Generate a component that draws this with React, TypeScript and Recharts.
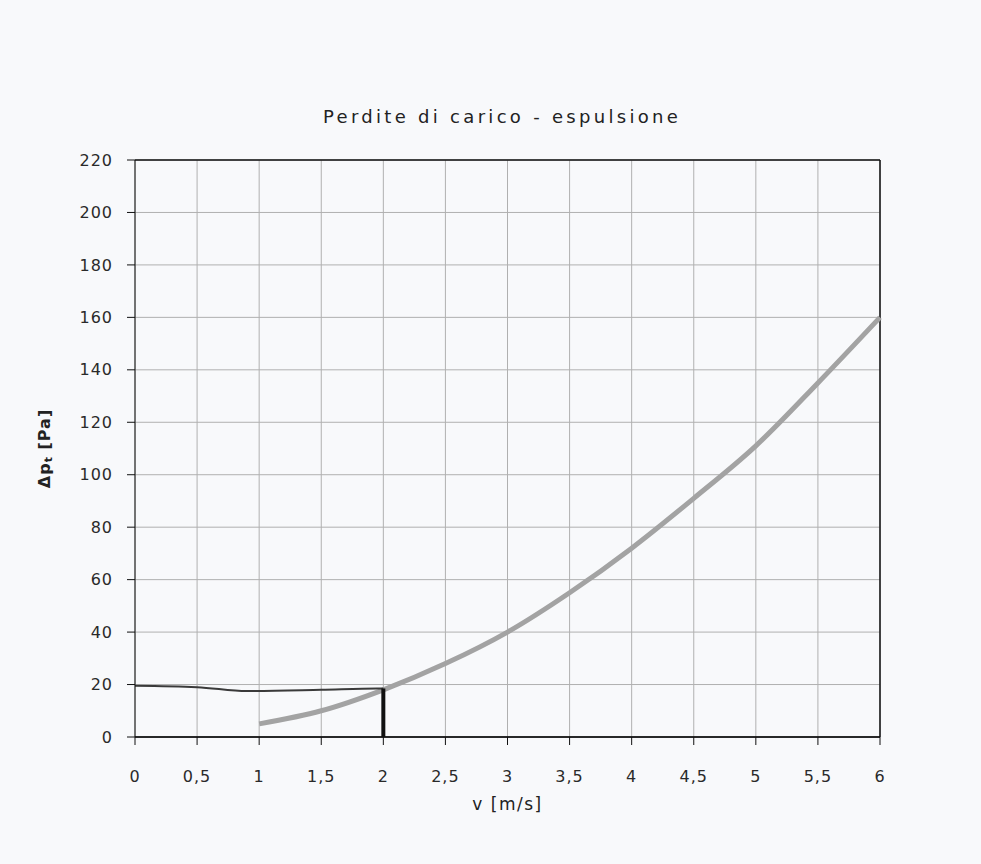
import {
  LineChart,
  Line,
  XAxis,
  YAxis,
  CartesianGrid,
  ReferenceLine,
} from "recharts";

// velocity ticks (m/s) and pressure ticks (Pa)
const xTicks = [0, 0.5, 1, 1.5, 2, 2.5, 3, 3.5, 4, 4.5, 5, 5.5, 6];
const yTicks = [0, 20, 40, 60, 80, 100, 120, 140, 160, 180, 200, 220];

// pressure loss curve
const curveV = [1, 1.5, 2, 2.5, 3, 3.5, 4, 4.5, 5, 5.5, 6];
const curveDp = [5, 10, 18, 28, 40, 55, 72, 91, 111, 135, 160];

// hand-drawn reading line: roughly horizontal near 20 Pa ...
const hV = [0, 0.5, 0.9, 1.5, 1.95, 2];
const hDp = [19.5, 19, 17.5, 18, 18.5, 18.5];
// ... then straight down at v = 2
const vV = [2, 2];
const vDp = [18.5, 0];

const curveData = curveV.map((v, i) => ({ v, dp: curveDp[i] }));
const hData = hV.map((v, i) => ({ v, dp: hDp[i] }));
const vData = vV.map((v, i) => ({ v, dp: vDp[i] }));

const fmt = (n: number) => String(n).replace(".", ",");
const font = "'DejaVu Sans', 'Liberation Sans', sans-serif";
const tickStyle = { fontFamily: font, fontSize: 16, fill: "#2a2a2a", letterSpacing: 1 };

function YLabel(props: any) {
  const vb = props.viewBox || {};
  const cx = 44;
  const cy = (vb.y ?? 160) + (vb.height ?? 577) / 2;
  return (
    <text
      x={cx}
      y={cy}
      transform={`rotate(-90 ${cx} ${cy})`}
      textAnchor="middle"
      dominantBaseline="central"
      fontFamily={font}
      fontSize={16}
      fontWeight="bold"
      letterSpacing={1}
      fill="#222"
    >
      Δp
      <tspan fontSize={11} dy={4}>t</tspan>
      <tspan dy={-4}> [Pa]</tspan>
    </text>
  );
}

export default function App() {
  return (
    <div
      style={{
        position: "fixed",
        left: 0,
        top: 0,
        width: 981,
        height: 864,
        background: "#f8f9fb",
      }}
    >
      <div
        style={{
          position: "absolute",
          top: 106,
          left: 323,
          fontFamily: font,
          fontSize: 18,
          letterSpacing: 3.3,
          color: "#222",
          whiteSpace: "nowrap",
        }}
      >
        Perdite di carico - espulsione
      </div>
      <LineChart
        width={981}
        height={864}
        margin={{ top: 160, right: 101, bottom: 42, left: 55 }}
      >
        <CartesianGrid stroke="#b0b0b0" strokeWidth={1} />
        <XAxis
          type="number"
          dataKey="v"
          domain={[0, 6]}
          ticks={xTicks}
          tickFormatter={fmt}
          interval={0}
          height={85}
          stroke="#111"
          tickSize={8}
          tickMargin={26}
          tick={tickStyle}
          label={{
            value: "v [m/s]",
            position: "insideBottom",
            offset: 12,
            style: { fontFamily: font, fontSize: 17, fill: "#222", letterSpacing: 1.5 },
          }}
        />
        <YAxis
          type="number"
          dataKey="dp"
          domain={[0, 220]}
          ticks={yTicks}
          interval={0}
          width={80}
          stroke="#111"
          tickSize={8}
          tickMargin={14}
          tick={tickStyle}
          label={<YLabel />}
        />
        <ReferenceLine y={220} stroke="#111" strokeWidth={1.5} />
        <ReferenceLine x={6} stroke="#111" strokeWidth={1.5} />
        <ReferenceLine y={0} stroke="#111" strokeWidth={1.5} />
        <Line
          data={curveData}
          dataKey="dp"
          type="monotone"
          stroke="#a3a3a3"
          strokeWidth={5}
          dot={false}
          isAnimationActive={false}
        />
        <Line
          data={hData}
          dataKey="dp"
          type="monotone"
          stroke="#3a3a3a"
          strokeWidth={2}
          dot={false}
          isAnimationActive={false}
        />
        <Line
          data={vData}
          dataKey="dp"
          type="linear"
          stroke="#111"
          strokeWidth={4}
          dot={false}
          isAnimationActive={false}
        />
      </LineChart>
    </div>
  );
}
